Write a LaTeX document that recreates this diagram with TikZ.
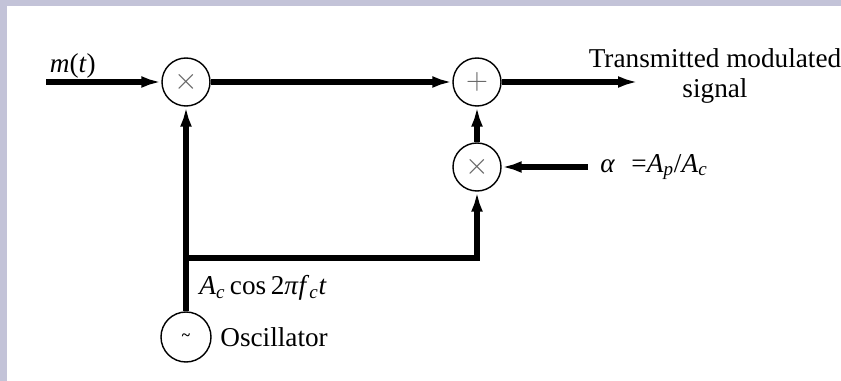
\documentclass[tikz,border=0pt]{standalone}
\usepackage{fontspec}
\setmainfont{Liberation Serif}
\usepackage{tikz}
\usetikzlibrary{arrows.meta, positioning}
\newcommand{\vi}[1]{\textit{#1}}

\begin{document}
\begin{tikzpicture}[>={Latex[length=0.4cm,width=0.24cm]},
    sig/.style={line width=3.1pt, black},
    mixer/.style={draw, circle, line width=0.8pt, minimum size=0.96cm, inner sep=0pt},
    font=\fontsize{15.5}{17}\selectfont]
    % fond et bordure
    \useasboundingbox (0,0) rectangle (16.82,7.62);
    \fill[white] (0,0) rectangle (16.82,7.62);
    \fill[black!5!blue!10!white!85!black] (0,0) rectangle (0.14,7.62);
    \fill[black!5!blue!10!white!85!black] (0,7.5) rectangle (16.82,7.62);

    % les blocs
    \node[mixer] (mulA) at (3.72,5.98) {\color{black!60}\LARGE$\times$};
    \node[mixer] (sumB) at (9.54,5.98) {\color{black!60}\LARGE$+$};
    \node[mixer] (mulC) at (9.54,4.28) {\color{black!60}\LARGE$\times$};
    \node[mixer, minimum size=1cm] (osc) at (3.72,0.88) {\bfseries\small\textasciitilde};

    \coordinate (inp) at (0.92,5.98);
    \coordinate (outp) at (12.76,5.98);
    \coordinate (alphaIn) at (11.76,4.28);
    \coordinate (junc) at (3.72,2.46);

    % les signaux
    \draw[sig,->] (inp) -- (mulA);
    \draw[sig,->] (mulA) -- (sumB);
    \draw[sig,->] (sumB) -- (outp);
    \draw[sig,->] (mulC) -- (sumB);
    \draw[sig,->] (alphaIn) -- (mulC);
    \draw[sig,->] (osc) -- (mulA);
    \draw[sig,->] (junc) -| (mulC);

    % textes
    \node[above right, inner sep=2pt] (mLbl) at (inp) {\vi{m}(\vi{t})};
    \node[align=center, inner sep=0pt] (outLbl) at (14.3,6.1) {Transmitted modulated\\signal};
    \node[right, inner sep=0pt] (alphaLbl) at (12.0,4.28) {\vi{α}\hspace{0.6em}=\vi{A}\textsubscript{\vi{p}}/\vi{A}\textsubscript{\vi{c}}};
    \node[right, inner sep=0pt] (carLbl) at (3.98,1.86) {\vi{A}\textsubscript{\vi{c}}\,cos\,2\vi{π}\vi{f}\textsubscript{\vi{c}}\vi{t}};
    \node[right, inner sep=0pt] (oscLbl) at (4.4,0.88) {Oscillator};
\end{tikzpicture}
\end{document}
